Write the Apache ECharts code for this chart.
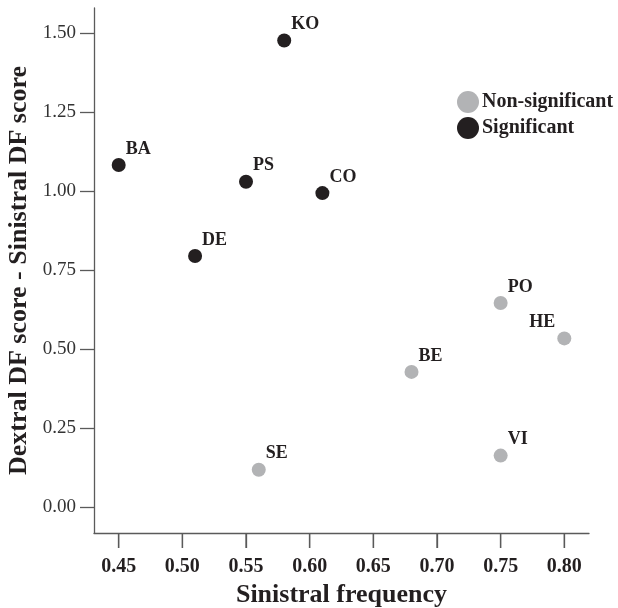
<!DOCTYPE html>
<html>
<head>
<meta charset="utf-8">
<script src="https://cdn.jsdelivr.net/npm/echarts@6/dist/echarts.min.js"></script>
<style>
  html, body { margin: 0; padding: 0; background: #fff; }
  #chart { width: 618px; height: 608px; }
</style>
</head>
<body>
<div id="chart"></div>
<script>
// significant groups
var sigNames = ['KO', 'BA', 'PS', 'CO', 'DE'];
var sigX = [0.58, 0.45, 0.55, 0.61, 0.51];
var sigY = [1.477, 1.083, 1.030, 0.994, 0.795];
// non-significant groups
var nonNames = ['PO', 'HE', 'BE', 'VI', 'SE'];
var nonX = [0.75, 0.80, 0.68, 0.75, 0.56];
var nonY = [0.646, 0.534, 0.428, 0.163, 0.118];
// tick labels
var xTicks = [0.45, 0.50, 0.55, 0.60, 0.65, 0.70, 0.75, 0.80];
var yTicks = [0.00, 0.25, 0.50, 0.75, 1.00, 1.25, 1.50];

var font = 'Liberation Serif';
var black = '#231f20';
var grey = '#b2b3b5';
var axisColor = '#5a5a5a';
var xMin = 0.4306, xMax = 0.8194;
var yMin = -0.082, yMax = 1.58;

function points(names, xs, ys) {
    var out = [];
    for (var i = 0; i < names.length; i++) {
        var item = {name: names[i], value: [xs[i], ys[i]]};
        // HE sits at the right edge, its label goes to the left
        if (names[i] === 'HE') {
            item.label = {position: 'left', distance: 2};
        }
        out.push(item);
    }
    return out;
}

var labelStyle = {
    show: true,
    position: 'right',
    distance: 0,
    offset: [0, -16],
    formatter: '{b}',
    fontFamily: font,
    fontWeight: 'bold',
    fontSize: 18,
    color: black
};

var option = {
    animation: false,
    grid: {left: 94, top: 8, width: 495, height: 525, containLabel: false, outerBoundsMode: 'none'},
    legend: {
        orient: 'vertical',
        left: 452,
        top: 86,
        icon: 'circle',
        itemWidth: 22,
        itemHeight: 22,
        itemGap: 4,
        textStyle: {fontFamily: font, fontWeight: 'bold', fontSize: 20, color: black, padding: [0, 0, 0, -2]},
        data: ['Non-significant', 'Significant']
    },
    xAxis: {
        type: 'value',
        min: xMin,
        max: xMax,
        name: 'Sinistral frequency',
        nameLocation: 'middle',
        nameGap: 46,
        nameTextStyle: {fontFamily: font, fontWeight: 'bold', fontSize: 26, color: black},
        axisLine: {onZero: false, lineStyle: {color: axisColor, width: 1.3}},
        axisTick: {show: true, length: 15, lineStyle: {color: axisColor, width: 1.3}, customValues: xTicks},
        axisLabel: {
            customValues: xTicks,
            margin: 24,
            fontFamily: font, fontWeight: 'bold', fontSize: 20, color: black,
            formatter: function (v) { return v.toFixed(2); }
        },
        splitLine: {show: false}
    },
    yAxis: {
        type: 'value',
        min: yMin,
        max: yMax,
        name: 'Dextral DF score - Sinistral DF score',
        nameLocation: 'middle',
        nameGap: 57,
        nameTextStyle: {fontFamily: font, fontWeight: 'bold', fontSize: 26, color: black},
        axisLine: {show: true, onZero: false, lineStyle: {color: axisColor, width: 1.3}},
        axisTick: {show: true, length: 14, lineStyle: {color: axisColor, width: 1.3}, customValues: yTicks},
        axisLabel: {
            customValues: yTicks,
            margin: 18,
            fontFamily: font, fontSize: 19, color: '#333',
            formatter: function (v) { return v.toFixed(2); }
        },
        splitLine: {show: false}
    },
    series: [
        {
            name: 'Non-significant',
            type: 'scatter',
            symbolSize: 14,
            itemStyle: {color: grey, opacity: 1},
            label: labelStyle,
            data: points(nonNames, nonX, nonY)
        },
        {
            name: 'Significant',
            type: 'scatter',
            symbolSize: 14,
            itemStyle: {color: black, opacity: 1},
            label: labelStyle,
            data: points(sigNames, sigX, sigY)
        },
        {
            // x tick marks, the axis ticks do not show up in this build
            type: 'custom',
            silent: true,
            clip: false,
            z: 10,
            data: xTicks.map(function (v) { return [v, yMin]; }),
            renderItem: function (params, api) {
                var p = api.coord([api.value(0), api.value(1)]);
                return {
                    type: 'line',
                    shape: {x1: p[0], y1: p[1], x2: p[0], y2: p[1] + 15},
                    style: {stroke: axisColor, lineWidth: 1.3}
                };
            }
        }
    ]
};

var chart = echarts.init(document.getElementById('chart'));
chart.setOption(option);
</script>
</body>
</html>
